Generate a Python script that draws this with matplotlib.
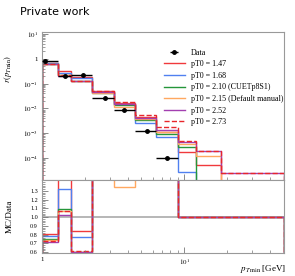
import numpy as np
import matplotlib
matplotlib.use("Agg")
import matplotlib.pyplot as plt
from matplotlib.ticker import FixedLocator, FuncFormatter, MultipleLocator, LogLocator, NullFormatter

plt.rcParams['font.family'] = ['Liberation Serif', 'DejaVu Serif']
plt.rcParams['mathtext.fontset'] = 'stix'

# bin edges of the pT min histogram [GeV]
edges = [1, 1.3, 1.6, 2.25, 3.2, 4.5, 6.3, 9, 12, 18, 50]

# data points (only first 7 bins filled)
data_x = [1.05, 1.45, 1.935, 2.76, 3.8, 5.43, 7.6]
data_y = [0.85, 0.20, 0.215, 0.027, 0.0088, 0.0012, 1.0e-4]

labels = ['pT0 = 1.47', 'pT0 = 1.68', 'pT0 = 2.10 (CUETp8S1)',
          'pT0 = 2.15 (Default manual)', 'pT0 = 2.52', 'pT0 = 2.73']
colors = ['#f0393c', '#5080f0', '#24963a', '#ffa860', '#a33fb0', '#e8262b']
styles = ['-', '-', '-', '-', '-', '--']

mc_147 = [0.684, 0.31, 0.181, 0.048, 0.016, 0.0045, 0.0011, 1.7e-4, 5e-5, 0]
mc_168 = [0.663, 0.264, 0.167, 0.045, 0.015, 0.0025, 0.0007, 2.6e-5, 0, 0]
mc_210 = [0.633, 0.218, 0.129, 0.042, 0.014, 0.0034, 0.0009, 2.7e-4, 0, 0]
mc_215 = [0.629, 0.215, 0.1297, 0.043, 0.0118, 0.0037, 0.0011, 3.7e-4, 1.2e-4, 0]
mc_252 = [0.608, 0.206, 0.1303, 0.046, 0.0155, 0.0042, 0.0014, 4.3e-4, 1.9e-4, 2.4e-5]
mc_273 = [0.616, 0.213, 0.131, 0.050, 0.0175, 0.0055, 0.0018, 4.8e-4, 1.9e-4, 2.4e-5]
mcs = [mc_147, mc_168, mc_210, mc_215, mc_252, mc_273]

ratio_ticks = [0.6, 0.7, 0.8, 0.9, 1.0, 1.1, 1.2, 1.3]

edges = np.array(edges)
data_full = np.zeros(len(edges) - 1)
data_full[:len(data_y)] = data_y

fig = plt.figure(figsize=(2.95, 2.76), dpi=100)
ax = fig.add_axes([0.142, 0.348, 0.820, 0.536])
rax = fig.add_axes([0.142, 0.0833, 0.820, 0.2647], sharex=ax)

for mc, c, ls, lab in zip(mcs, colors, styles, labels):
    ax.stairs(mc, edges, color=c, linestyle=ls, lw=1.0, label=lab)
    mc = np.array(mc)
    ratio = np.ones_like(mc)
    np.divide(mc, data_full, out=ratio, where=data_full > 0)
    rax.stairs(ratio, edges, color=c, linestyle=ls, lw=1.0)

lo = np.array(data_x) - edges[:len(data_x)]
hi = edges[1:len(data_x) + 1] - np.array(data_x)
ax.errorbar(data_x, data_y, xerr=[lo, hi], fmt='o', color='black', ms=2.5,
            lw=1.0, capsize=0, label='Data', zorder=5)

ax.set_xscale('log')
ax.set_yscale('log')
ax.set_xlim(1, 50)
ax.set_ylim(1.3e-5, 12)
rax.set_ylim(0.589, 1.426)
rax.axhline(1.0, color='#aaaaaa', lw=1.2, zorder=0)

for a in (ax, rax):
    for s in a.spines.values():
        s.set_color('#999999')
        s.set_linewidth(0.8)
    a.tick_params(which='both', direction='in', labelsize=5, color='#777777',
                  top=False, right=False, pad=3)
    a.tick_params(which='major', length=4, width=0.6)
    a.tick_params(which='minor', length=2, width=0.5)
rax.tick_params(axis='y', labelsize=4.4)

def logfmt(v, pos):
    e = int(round(np.log10(v)))
    if e == 0:
        return '1'
    return '$10^{%d}$' % e

ax.yaxis.set_major_locator(LogLocator(base=10, numticks=10))
ax.yaxis.set_minor_locator(LogLocator(base=10, subs=np.arange(2, 10), numticks=20))
ax.yaxis.set_major_formatter(FuncFormatter(logfmt))
ax.yaxis.set_minor_formatter(NullFormatter())
ax.tick_params(axis='x', labelbottom=False)

rax.xaxis.set_major_locator(FixedLocator([1, 10]))
rax.xaxis.set_minor_locator(FixedLocator([2, 3, 4, 5, 6, 7, 8, 9, 20, 30, 40]))
rax.xaxis.set_major_formatter(FuncFormatter(logfmt))
rax.xaxis.set_minor_formatter(NullFormatter())
rax.yaxis.set_major_locator(FixedLocator(ratio_ticks))
rax.yaxis.set_minor_locator(MultipleLocator(0.02))
rax.yaxis.set_major_formatter(FuncFormatter(lambda v, p: '%.1f' % v))

ax.set_ylabel(r'$r(p_{T\,\mathrm{min}})$', fontsize=6)
ax.yaxis.set_label_coords(-0.115, 0.75)
rax.set_ylabel('MC/Data', fontsize=6.5)
rax.yaxis.set_label_coords(-0.115, 0.5)
rax.set_xlabel(r'$p_{T\,\mathrm{min}}$ [GeV]', fontsize=6.5, ha='right')
rax.xaxis.set_label_coords(1.01, -0.14)

h, l = ax.get_legend_handles_labels()
h = [h[-1]] + h[:-1]
l = [l[-1]] + l[:-1]
ax.legend(h, l, loc='upper left', bbox_to_anchor=(0.49, 0.91), frameon=False,
          fontsize=5.8, handlelength=2.6, handletextpad=0.8, labelspacing=0.45,
          borderaxespad=0)

fig.text(0.068, 0.955, 'Private work', fontsize=8, family='DejaVu Sans', va='center')

fig.savefig('out.png', dpi=100)
